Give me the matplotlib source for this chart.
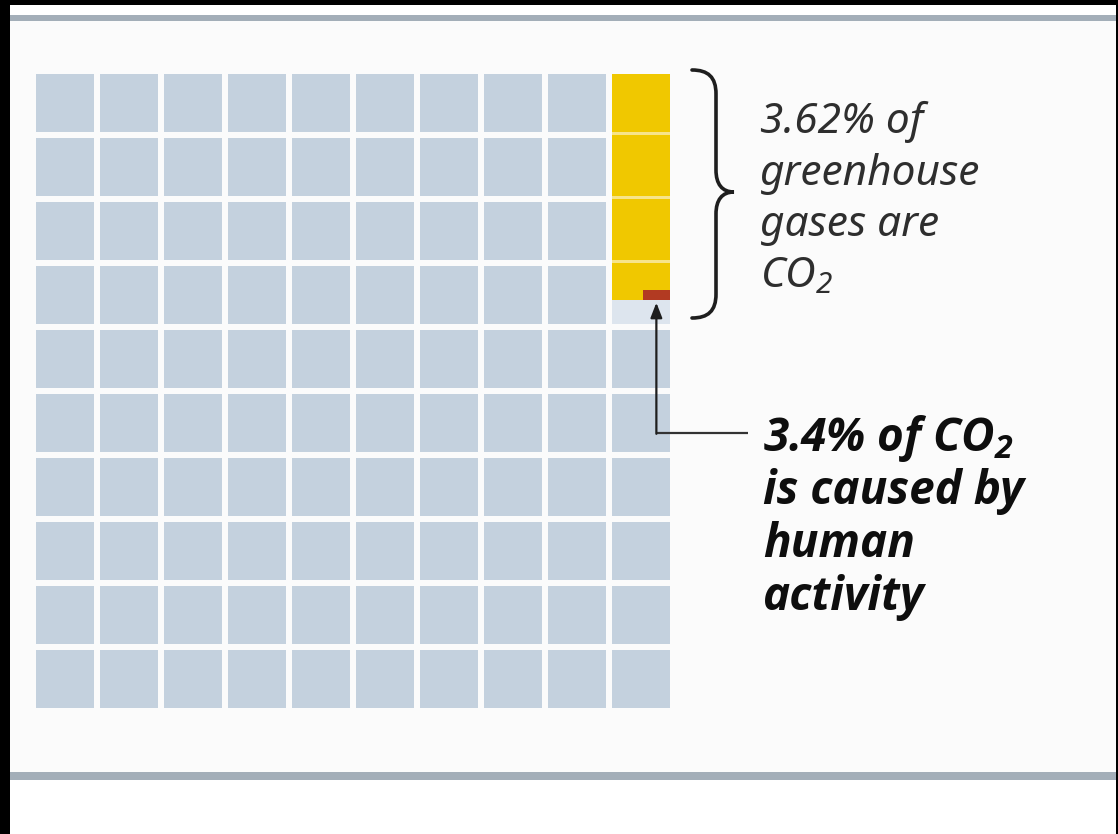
import numpy as np
import matplotlib
matplotlib.use('Agg')
import matplotlib.pyplot as plt
from matplotlib.patches import Rectangle, PathPatch
from matplotlib.path import Path
from matplotlib import font_manager

# data
n_rows = 10
n_cols = 10
co2_share = 3.62      # % of greenhouse gases that are CO2 (cells out of 100)
human_share = 3.4     # % of CO2 caused by human activity
label_co2 = ['3.62% of', 'greenhouse', 'gases are', r'$\mathdefault{CO_2}$']
label_human = [r'3.4% of $\mathdefault{CO_2}$', 'is caused by', 'human', 'activity']

# colours
col_cell = '#c4d1de'
col_yellow = '#f0c800'
col_red = '#b23a22'
col_panel = '#fbfbfb'


def pick_family(cands, bold):
    # first family that really has an italic (bold) face installed
    for fam in cands:
        for f in font_manager.fontManager.ttflist:
            if f.name != fam or f.style != 'italic':
                continue
            is_bold = str(f.weight) in ('700', 'bold')
            if is_bold == bold:
                return fam
    return 'DejaVu Sans'


fam_light = pick_family(['Noto Sans', 'Open Sans', 'Lato'], False)
fam_bold = pick_family(['Open Sans', 'Noto Sans', 'Lato', 'Roboto'], True)

W, H = 1118, 834
fig = plt.figure(figsize=(W / 100, H / 100), dpi=100)
fig.patch.set_facecolor('white')
ax = fig.add_axes([0, 0, 1, 1])
ax.set_xlim(0, W)
ax.set_ylim(H, 0)
ax.axis('off')

# frame of the screenshot
ax.add_patch(Rectangle((0, 21), W, 751, color=col_panel, lw=0))
ax.add_patch(Rectangle((0, 15), W, 6, color='#a3aeb8', lw=0))
ax.add_patch(Rectangle((0, 772), W, 8, color='#a3aeb8', lw=0))
ax.add_patch(Rectangle((0, 0), W, 5, color='black', lw=0))
ax.add_patch(Rectangle((0, 0), 10, H, color='black', lw=0))
ax.add_patch(Rectangle((W - 2, 0), 2, H, color='black', lw=0))

# waffle grid
x0, y0 = 36, 74
pitch = 64
gap = 6
cell = pitch - gap
for r in range(n_rows):
    for c in range(n_cols):
        ax.add_patch(Rectangle((x0 + c * pitch, y0 + r * pitch), cell, cell,
                               color=col_cell, lw=0))

# yellow share, filled top-down in the last column
yx = x0 + (n_cols - 1) * pitch
full = int(co2_share)
yh = co2_share * pitch
ax.add_patch(Rectangle((yx, y0 + full * pitch), cell, cell, color='#dde5ee', lw=0))
ax.add_patch(Rectangle((yx, y0), cell, yh - gap, color=col_yellow, lw=0))
for k in range(1, full + 1):
    ax.add_patch(Rectangle((yx, y0 + k * pitch - gap), cell, 2.5,
                           color='#f7e48a', lw=0))
# red: human part, sitting at the bottom of the yellow bar
red_h = 10
red_w = cell * 0.47
red_top = y0 + yh - gap - red_h
ax.add_patch(Rectangle((yx + cell - red_w, red_top), red_w, red_h,
                       color=col_red, lw=0))

# curly brace
bx, by0, by1, tipx = 692, 70, 318, 734
mid = (by0 + by1) / 2 - 2
sx = bx + 24
verts = [(bx, by0), (bx + 16, by0), (sx, by0 + 7), (sx, by0 + 24),
         (sx, mid - 22),
         (sx, mid - 8), (sx + 6, mid), (tipx, mid),
         (sx + 6, mid), (sx, mid + 8), (sx, mid + 22),
         (sx, by1 - 24),
         (sx, by1 - 7), (bx + 16, by1), (bx, by1)]
codes = [Path.MOVETO, Path.CURVE4, Path.CURVE4, Path.CURVE4, Path.LINETO,
         Path.CURVE4, Path.CURVE4, Path.CURVE4,
         Path.CURVE4, Path.CURVE4, Path.CURVE4, Path.LINETO,
         Path.CURVE4, Path.CURVE4, Path.CURVE4]
ax.add_patch(PathPatch(Path(verts, codes), fill=False, ec='#1e1e1e', lw=2.6,
                       capstyle='round'))

# arrow from label to red bar
arr_x = yx + cell - red_w / 2
arr_y = 433
ax.plot([arr_x, 748], [arr_y, arr_y], color='#333333', lw=1.6,
        solid_capstyle='butt')
ax.annotate('', xy=(arr_x, red_top + red_h + 3), xytext=(arr_x, arr_y + 0.8),
            arrowprops=dict(arrowstyle='-|>,head_length=0.9,head_width=0.35',
                            color='#1e1e1e', lw=1.6, shrinkA=0, shrinkB=0))

# labels
for i, line in enumerate(label_co2):
    ax.text(760, 133 + i * 51.5, line, fontsize=30.5, family=fam_light,
            style='italic', color='#2e2e2e', va='baseline', ha='left')
for i, line in enumerate(label_human):
    ax.text(763, 451 + i * 53, line, fontsize=33, family=fam_bold,
            style='italic', weight='bold', color='#0e0e0e', va='baseline', ha='left')

fig.savefig('out.png', dpi=100, facecolor=fig.get_facecolor())
